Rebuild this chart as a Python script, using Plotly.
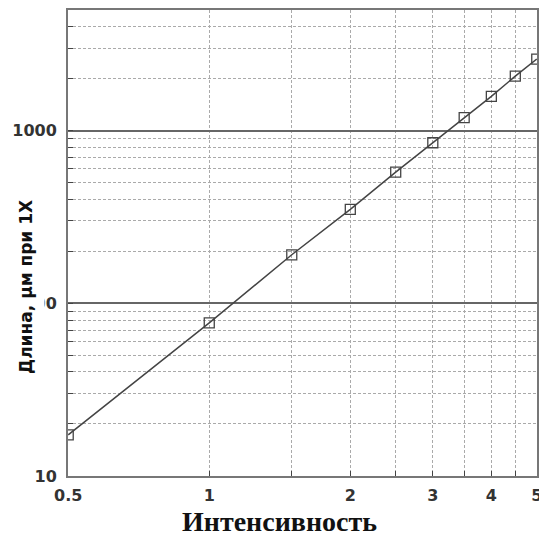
import plotly.graph_objects as go

# Data
intensity = [0.5, 1.0, 1.5, 2.0, 2.5, 3.0, 3.5, 4.0, 4.5, 5.0]
length_um = [17.3, 77, 191, 350, 575, 851, 1190, 1580, 2070, 2600]

x_major_ticks = [0.5, 1, 2, 3, 4, 5]
x_major_labels = ["0.5", "1", "2", "3", "4", "5"]
x_minor_ticks = [1.5, 2.5, 3.5, 4.5]

y_major_ticks = [10, 100, 1000]
y_major_labels = ["10", "100", "1000"]
y_minor_ticks = [20, 30, 40, 50, 60, 70, 80, 90,
                 200, 300, 400, 500, 600, 700, 800, 900,
                 2000, 3000, 4000, 5000]

x_title = "Интенсивность"
y_title = "Длина, μм при 1X"

fig = go.Figure()
fig.add_trace(go.Scatter(
    x=intensity, y=length_um, mode="lines+markers",
    line=dict(color="#444444", width=1.5),
    marker=dict(symbol="square-open", size=10, color="#444444",
                line=dict(width=1.3, color="#444444")),
    showlegend=False,
))

tick_font = dict(family="DejaVu Sans", size=16, color="#333333", weight="bold")

fig.update_xaxes(
    type="log", range=[-0.3015, 0.6995], automargin=False,
    tickmode="array", tickvals=x_major_ticks, ticktext=x_major_labels,
    tickfont=tick_font, ticks="inside", ticklen=5, tickcolor="#444",
    ticklabeloverflow="allow",
    showgrid=True, gridcolor="#aaaaaa", gridwidth=1, griddash="3px,2px",
    minor=dict(tickmode="array", tickvals=x_minor_ticks, showgrid=True,
               gridcolor="#aaaaaa", gridwidth=1, griddash="3px,2px",
               ticks="inside", ticklen=5, tickcolor="#444"),
    showline=True, linecolor="#777777", linewidth=2, mirror=True,
    ticklabelstandoff=4, zeroline=False,
)
fig.update_yaxes(
    type="log", range=[0.9995, 3.699], automargin=False,
    tickmode="array", tickvals=y_major_ticks, ticktext=y_major_labels,
    tickfont=tick_font, ticks="inside", ticklen=5, tickcolor="#444",
    ticklabeloverflow="allow",
    showgrid=True, gridcolor="#666666", gridwidth=1.5,
    minor=dict(tickmode="array", tickvals=y_minor_ticks, showgrid=True,
               gridcolor="#aaaaaa", gridwidth=1, griddash="3px,2px",
               ticks="inside", ticklen=5, tickcolor="#444"),
    showline=True, linecolor="#777777", linewidth=2, mirror=True,
    ticklabelstandoff=6, zeroline=False,
)

fig.add_annotation(
    text=y_title, xref="paper", yref="paper", x=-0.0896, y=0.4056,
    xanchor="center", yanchor="middle", textangle=-90, showarrow=False,
    font=dict(family="DejaVu Sans", size=17, color="#111111", weight="bold"),
    bgcolor="white", borderpad=8,
)
fig.add_annotation(
    text=x_title, xref="paper", yref="paper", x=0.45, y=-0.098,
    xanchor="center", yanchor="middle", showarrow=False,
    font=dict(family="Liberation Serif", size=28, color="#111111", weight="bold"),
)

fig.update_layout(
    width=539, height=537,
    margin=dict(l=68, r=2, t=10, b=61, autoexpand=False),
    paper_bgcolor="white", plot_bgcolor="white",
)

fig.write_html("out.html", config={"displayModeBar": False},
               post_script="document.body.style.margin='0';document.body.style.overflow='hidden';")
